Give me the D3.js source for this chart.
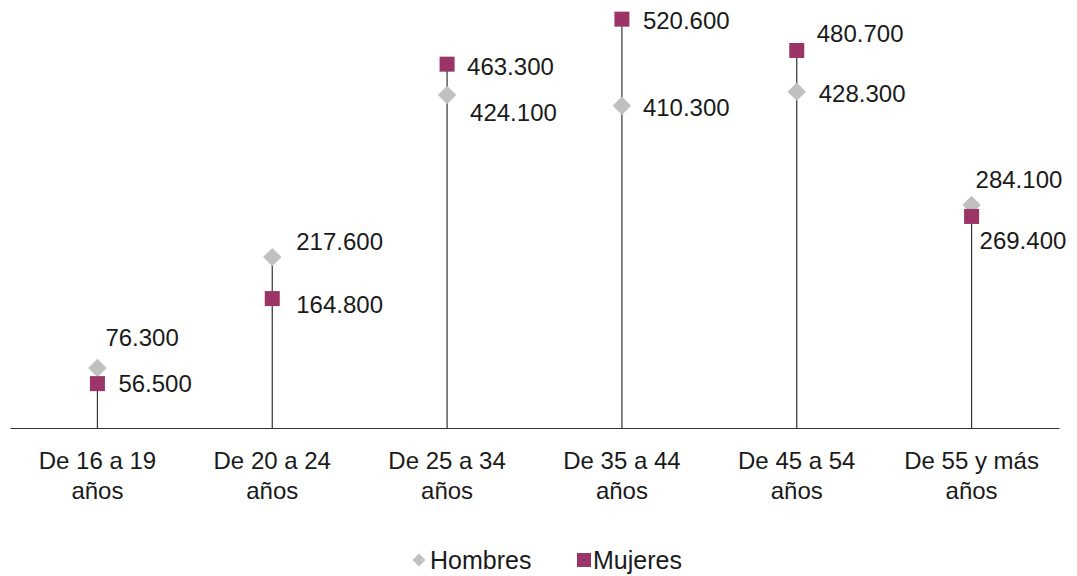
<!DOCTYPE html>
<html><head><meta charset="utf-8">
<script src="https://cdn.jsdelivr.net/npm/d3@7"></script>
<style>body{margin:0;background:#fff}svg{display:block;font-family:"Liberation Sans",Arial,sans-serif}</style>
</head><body><svg id="c" width="1077" height="576"></svg>
<script>
const categories = [["De 16 a 19","años"],["De 20 a 24","años"],["De 25 a 34","años"],["De 35 a 44","años"],["De 45 a 54","años"],["De 55 y más","años"]];
const hombres = [76.3, 217.6, 424.1, 410.3, 428.3, 284.1];
const mujeres = [56.5, 164.8, 463.3, 520.6, 480.7, 269.4];
const seriesNames = ["Hombres", "Mujeres"];
// label offsets (layout only)
const hOff = [[8,-31],[24,-16],[23,18],[21,2],[22,2],[4,-25]];
const mOff = [[21,0],[24,6],[20,2],[21,1],[20,-17],[8,24]];

const fmt = v => d3.format(".3f")(v);
const svg = d3.select("#c");
const x = d3.scaleBand().domain(d3.range(categories.length)).range([10, 1059]);
const y = d3.scaleLinear().domain([0, 545]).range([428, 0]);
const cx = i => x(i) + x.bandwidth()/2;
const colH = "#c0c0c0", colM = "#9b3467", txt = "#1a1a1a";

// drop lines
svg.append("g").selectAll("line").data(categories).join("line")
  .attr("x1",(d,i)=>cx(i)).attr("x2",(d,i)=>cx(i))
  .attr("y1",y(0)).attr("y2",(d,i)=>y(Math.max(hombres[i],mujeres[i])))
  .attr("stroke","#333").attr("stroke-width",1.2);

// axis
const ax = svg.append("g").attr("transform",`translate(0,${y(0)})`)
  .call(d3.axisBottom(x).tickSize(0).tickFormat(""));
ax.select(".domain").attr("stroke","#333").attr("stroke-width",1.2);

// category labels
const cl = svg.append("g").selectAll("text").data(categories).join("text")
  .attr("x",(d,i)=>cx(i)).attr("y",469).attr("text-anchor","middle")
  .attr("font-size",24).attr("fill",txt);
cl.each(function(d){
  const t = d3.select(this);
  d.forEach((s,k)=>t.append("tspan").attr("x",t.attr("x")).attr("dy",k?30:0).text(s));
});

// Hombres markers (diamonds)
svg.append("g").selectAll("path").data(hombres).join("path")
  .attr("d", d3.symbol().type(d3.symbolSquare).size(170))
  .attr("transform",(d,i)=>`translate(${cx(i)},${y(d)}) rotate(45)`).attr("fill",colH);
// Mujeres markers (squares)
svg.append("g").selectAll("rect").data(mujeres).join("rect")
  .attr("x",(d,i)=>cx(i)-7.5).attr("y",d=>y(d)-7.5).attr("width",15).attr("height",15).attr("fill",colM);

// value labels
const lbl = (data, off) => svg.append("g").selectAll("text").data(data).join("text")
  .attr("x",(d,i)=>cx(i)+off[i][0]).attr("y",(d,i)=>y(d)+off[i][1])
  .attr("dominant-baseline","central").attr("font-size",24).attr("fill",txt)
  .text(d=>fmt(d));
lbl(hombres,hOff); lbl(mujeres,mOff);

// legend
const lg = svg.append("g").attr("transform","translate(0,560)");
lg.append("path").attr("d",d3.symbol().type(d3.symbolSquare).size(85)).attr("transform","translate(419,0) rotate(45)").attr("fill",colH);
lg.append("text").attr("x",430).attr("y",0).attr("dominant-baseline","central").attr("font-size",25).attr("fill",txt).text(seriesNames[0]);
lg.append("rect").attr("x",577).attr("y",-7).attr("width",14).attr("height",14).attr("fill",colM);
lg.append("text").attr("x",593).attr("y",0).attr("dominant-baseline","central").attr("font-size",25).attr("fill",txt).text(seriesNames[1]);
</script></body></html>
